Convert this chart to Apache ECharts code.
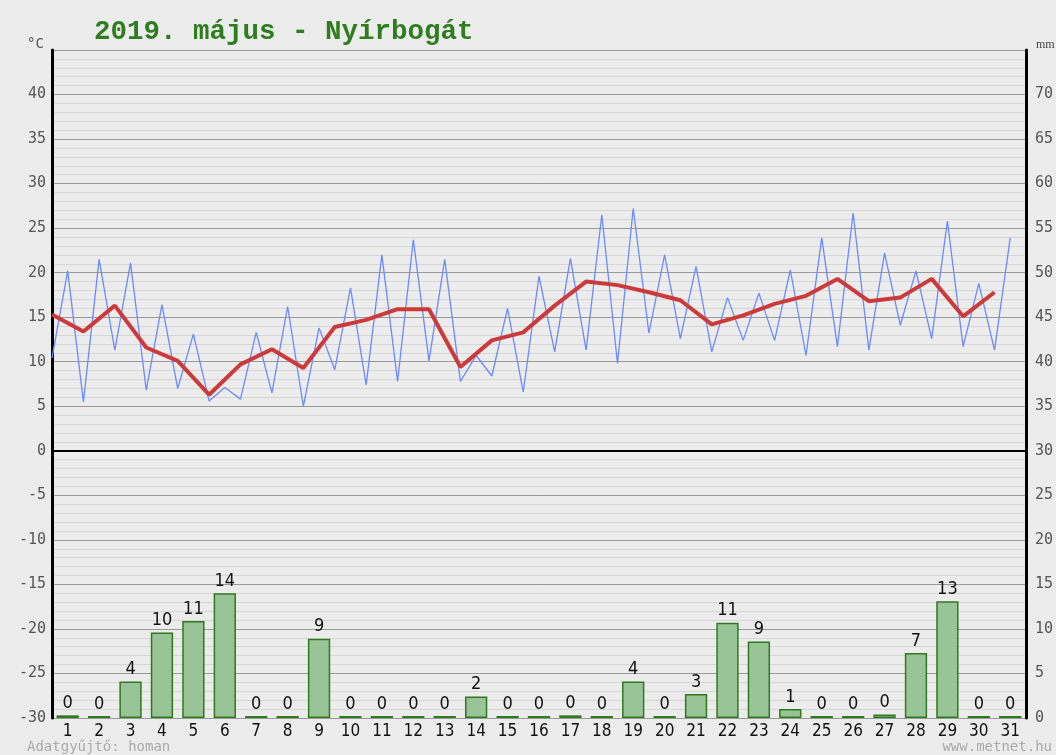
<!DOCTYPE html>
<html>
<head>
<meta charset="utf-8">
<script src="https://cdn.jsdelivr.net/npm/echarts@6/dist/echarts.min.js"></script>
<style>
html,body{margin:0;padding:0;background:#ececec;}
#chart{width:1056px;height:755px;}
</style>
</head>
<body>
<div id="chart"></div>
<script>
var days = ['1','2','3','4','5','6','7','8','9','10','11','12','13','14','15','16','17','18','19','20','21','22','23','24','25','26','27','28','29','30','31'];
var tMin = [10.4,5.5,11.3,6.8,7.0,5.6,5.8,6.5,5.0,9.1,7.4,7.8,10.1,7.8,8.4,6.6,11.1,11.3,9.8,13.2,12.6,11.1,12.4,12.4,10.7,11.7,11.3,14.1,12.6,11.7,11.3];
var tMax = [20.2,21.5,21.1,16.4,13.1,7.1,13.3,16.2,13.8,18.3,22.0,23.7,21.5,10.7,16.0,19.6,21.6,26.5,27.2,22.0,20.7,17.2,17.7,20.3,23.9,26.7,22.2,20.2,25.8,18.8,23.9];
var tAvg = [15.3,13.4,16.3,11.6,10.1,6.3,9.7,11.4,9.3,13.9,14.7,15.9,15.9,9.4,12.4,13.3,16.3,19.0,18.6,17.8,16.9,14.2,15.2,16.5,17.4,19.3,16.8,17.2,19.3,15.1,17.8];
var precip = [0.3,0,4.1,9.6,10.9,14.0,0,0,8.9,0,0,0,0,2.4,0,0,0.3,0,4.1,0,2.7,10.7,8.6,1.0,0,0,0.4,7.3,13.1,0,0];
var leftTicks = [-30,-25,-20,-15,-10,-5,0,5,10,15,20,25,30,35,40];
var rightTicks = [0,5,10,15,20,25,30,35,40,45,50,55,60,65,70];

var bluePts = [];
for (var i = 0; i < days.length; i++) {
  bluePts.push([i, tMin[i]]);
  bluePts.push([i + 0.5, tMax[i]]);
}
var redPts = tAvg.map(function (v, i) { return [i, v]; });

var chart = echarts.init(document.getElementById('chart'));
chart.setOption({
  backgroundColor: '#ececec',
  animation: false,
  grid: { left: 52, right: 26, top: 50, bottom: 37, containLabel: false },
  graphic: [
    { type: 'text', left: 94, top: 18, style: { text: '2019. május - Nyírbogát', font: 'bold 27.5px "Liberation Mono", "DejaVu Sans Mono", monospace', fill: '#2e7d1e' } },
    { type: 'text', left: 27, top: 37, style: { text: '°C', font: '14px "DejaVu Sans Mono", monospace', fill: '#555' } },
    { type: 'text', left: 1036, top: 39, style: { text: 'mm', font: '12px "Liberation Serif", serif', fill: '#444' } },
    { type: 'text', left: 27, top: 740, style: { text: 'Adatgyűjtő: homan', font: '14px "DejaVu Sans Mono", monospace', fill: '#aaa' } },
    { type: 'text', right: 4, top: 740, style: { text: 'www.metnet.hu', font: '14px "DejaVu Sans Mono", monospace', fill: '#aaa' } }
  ],
  xAxis: [
    {
      type: 'category', data: days, position: 'bottom',
      axisLine: { show: false }, axisTick: { show: false },
      axisLabel: { color: '#111', fontSize: 17, fontFamily: '"DejaVu Sans Condensed", "Liberation Sans Narrow", sans-serif', margin: 5, interval: 0 },
      splitLine: { show: false }
    },
    { type: 'value', min: 0, max: 31, show: false }
  ],
  yAxis: [
    {
      type: 'value', min: -30, max: 45, interval: 5, position: 'left',
      axisLine: { show: true, lineStyle: { color: '#000', width: 3 } },
      axisTick: { show: false },
      axisLabel: {
        color: '#555', fontSize: 15, fontFamily: '"DejaVu Sans Mono", monospace', margin: 6,
        formatter: function (v) { return leftTicks.indexOf(v) >= 0 ? String(v) : ''; }
      },
      splitLine: { show: true, lineStyle: { color: '#999', width: 1 } },
      minorTick: { show: false, splitNumber: 5 },
      minorSplitLine: { show: true, lineStyle: { color: '#d6d6d6', width: 1 } }
    },
    {
      type: 'value', min: 0, max: 75, interval: 5, position: 'right',
      axisLine: { show: true, lineStyle: { color: '#000', width: 3 } },
      axisTick: { show: false },
      axisLabel: {
        color: '#555', fontSize: 15, fontFamily: '"DejaVu Sans Mono", monospace', margin: 9,
        formatter: function (v) { return rightTicks.indexOf(v) >= 0 ? String(v) : ''; }
      },
      splitLine: { show: false }
    }
  ],
  series: [
    {
      type: 'bar', xAxisIndex: 0, yAxisIndex: 1, data: precip,
      barWidth: '71%', barMinHeight: 2,
      itemStyle: { color: '#98c498', borderColor: '#2f7a1c', borderWidth: 1.5 },
      label: {
        show: true, position: 'top', distance: 3, color: '#111', fontSize: 18,
        fontFamily: '"DejaVu Sans Condensed", "Liberation Sans Narrow", sans-serif',
        formatter: function (p) { return String(Math.round(p.value)); }
      },
      z: 2
    },
    {
      type: 'line', xAxisIndex: 1, yAxisIndex: 0, data: bluePts,
      showSymbol: false, symbol: 'none',
      lineStyle: { color: '#6a8aff', width: 1.3 },
      z: 3
    },
    {
      type: 'line', xAxisIndex: 1, yAxisIndex: 0, data: redPts,
      showSymbol: false, symbol: 'none',
      lineStyle: { color: '#cc3a3a', width: 4 },
      markLine: {
        silent: true, symbol: 'none', label: { show: false },
        lineStyle: { color: '#000', width: 2, type: 'solid' },
        data: [{ yAxis: 0 }]
      },
      z: 4
    }
  ]
});
</script>
</body>
</html>
